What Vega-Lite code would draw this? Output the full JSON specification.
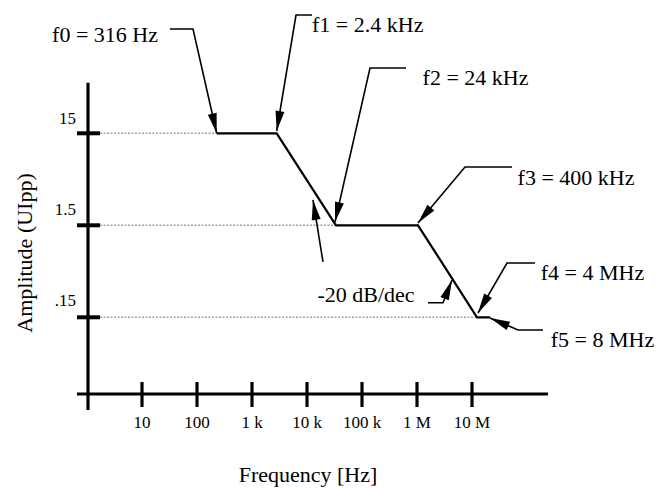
{
  "$schema": "https://vega.github.io/schema/vega-lite/v6.json",
  "width": 662,
  "height": 488,
  "autosize": {"type": "none"},
  "padding": 0,
  "background": "white",
  "config": {"view": {"stroke": null}},
  "encoding": {
    "x": {"field": "x", "type": "quantitative", "scale": {"type": "log", "domain": [0.02619, 2.848e10], "nice": false}, "axis": null},
    "y": {"field": "y", "type": "quantitative", "scale": {"type": "log", "domain": [0.002092, 421.7], "nice": false}, "axis": null}
  },
  "layer": [
    {
      "data": {"values": [
        {"x": 1.723, "x2": 228, "y": 15},
        {"x": 1.723, "x2": 33650, "y": 1.5},
        {"x": 1.723, "x2": 1.233e7, "y": 0.15}
      ]},
      "mark": {"type": "rule", "color": "#a0a0a0", "strokeWidth": 1.5, "strokeDash": [2, 1.5]},
      "encoding": {"x2": {"field": "x2"}}
    },
    {
      "data": {"values": [
        {"x": 228, "y": 15, "o": 1},
        {"x": 2812, "y": 15, "o": 2},
        {"x": 33650, "y": 1.5, "o": 3},
        {"x": 1.043e6, "y": 1.5, "o": 4},
        {"x": 1.233e7, "y": 0.15, "o": 5},
        {"x": 2.124e7, "y": 0.15, "o": 6}
      ]},
      "mark": {"type": "line", "color": "black", "strokeWidth": 2.2},
      "encoding": {"order": {"field": "o", "type": "quantitative"}}
    },
    {
      "data": {"values": [
        {"x": 1.0428, "y": 53.2, "y2": 0.01474},
        {"x": 10, "y": 0.0297, "y2": 0.01589},
        {"x": 100, "y": 0.0297, "y2": 0.01589},
        {"x": 1000, "y": 0.0297, "y2": 0.01589},
        {"x": 10000, "y": 0.0297, "y2": 0.01589},
        {"x": 100000, "y": 0.0297, "y2": 0.01589},
        {"x": 1000000, "y": 0.0297, "y2": 0.01589},
        {"x": 10000000, "y": 0.0297, "y2": 0.01589}
      ]},
      "mark": {"type": "rule", "color": "black", "strokeWidth": 3.2},
      "encoding": {"y2": {"field": "y2"}}
    },
    {
      "data": {"values": [
        {"x": 0.658, "x2": 2.41e8, "y": 0.022}
      ]},
      "mark": {"type": "rule", "color": "black", "strokeWidth": 3.2},
      "encoding": {"x2": {"field": "x2"}}
    },
    {
      "data": {"values": [
        {"x": 0.658, "x2": 1.723, "y": 15},
        {"x": 0.658, "x2": 1.723, "y": 1.5},
        {"x": 0.658, "x2": 1.723, "y": 0.15}
      ]},
      "mark": {"type": "rule", "color": "black", "strokeWidth": 4},
      "encoding": {"x2": {"field": "x2"}}
    },
    {
      "data": {"values": [
        {"g": "f0", "o": 1, "x": 32.29, "y": 204.0},
        {"g": "f0", "o": 2, "x": 84.6, "y": 204.0},
        {"g": "f0", "o": 3, "x": 228, "y": 15},
        {"g": "f1", "o": 1, "x": 12330, "y": 289.7},
        {"g": "f1", "o": 2, "x": 6310, "y": 289.7},
        {"g": "f1", "o": 3, "x": 2812, "y": 15.89},
        {"g": "f2", "o": 1, "x": 631000, "y": 76.9},
        {"g": "f2", "o": 2, "x": 139800, "y": 76.9},
        {"g": "f2", "o": 3, "x": 32290, "y": 1.629},
        {"g": "f3", "o": 1, "x": 5.337e7, "y": 6.453},
        {"g": "f3", "o": 2, "x": 7.46e6, "y": 6.453},
        {"g": "f3", "o": 3, "x": 1.043e6, "y": 1.589},
        {"g": "f4", "o": 1, "x": 1.398e8, "y": 0.5838},
        {"g": "f4", "o": 2, "x": 4.329e7, "y": 0.5838},
        {"g": "f4", "o": 3, "x": 1.286e7, "y": 0.167},
        {"g": "f5", "o": 1, "x": 1.954e8, "y": 0.1092},
        {"g": "f5", "o": 2, "x": 6.862e7, "y": 0.1092},
        {"g": "f5", "o": 3, "x": 2.125e7, "y": 0.1474},
        {"g": "d1", "o": 1, "x": 19540, "y": 0.5987},
        {"g": "d1", "o": 2, "x": 12850, "y": 2.826},
        {"g": "d2", "o": 1, "x": 1.585e6, "y": 0.2162},
        {"g": "d2", "o": 2, "x": 2.97e6, "y": 0.2162},
        {"g": "d2", "o": 3, "x": 4.329e6, "y": 0.3815}
      ]},
      "mark": {"type": "line", "color": "black", "strokeWidth": 1.6},
      "encoding": {
        "detail": {"field": "g", "type": "nominal"},
        "order": {"field": "o", "type": "quantitative"}
      }
    },
    {
      "data": {"values": [
        {"x": 228, "y": 15, "angle": 167.2},
        {"x": 2812, "y": 15.89, "angle": 189.45},
        {"x": 32290, "y": 1.629, "angle": 192.8},
        {"x": 1.043e6, "y": 1.589, "angle": 220},
        {"x": 1.286e7, "y": 0.167, "angle": 210.1},
        {"x": 2.125e7, "y": 0.1474, "angle": 293.2},
        {"x": 12850, "y": 2.826, "angle": 350.8},
        {"x": 4.329e6, "y": 0.3815, "angle": 21.6}
      ]},
      "mark": {"type": "point", "shape": "M0,0L-0.45,2L0.45,2Z", "filled": true, "color": "black", "opacity": 1, "size": 400, "strokeWidth": 0},
      "encoding": {"angle": {"field": "angle", "type": "quantitative", "scale": null}}
    },
    {
      "data": {"values": [
        {"x": 19.54, "y": 148.5, "label": "f0 = 316 Hz"}
      ]},
      "mark": {"type": "text", "font": "Liberation Serif", "color": "black", "align": "right", "baseline": "alphabetic", "fontSize": 22},
      "encoding": {"text": {"field": "label"}}
    },
    {
      "data": {"values": [
        {"x": 12330, "y": 190.7, "label": "f1 = 2.4 kHz"}
      ]},
      "mark": {"type": "text", "font": "Liberation Serif", "color": "black", "align": "left", "baseline": "alphabetic", "fontSize": 22},
      "encoding": {"text": {"field": "label"}}
    },
    {
      "data": {"values": [
        {"x": 1.158e7, "y": 50.24, "label": "f2 = 24 kHz"},
        {"x": 7.78e8, "y": 4.113, "label": "f3 = 400 kHz"},
        {"x": 1.552e9, "y": 0.3815, "label": "f4 = 4 MHz"},
        {"x": 2.359e9, "y": 0.07186, "label": "f5 = 8 MHz"},
        {"x": 118200, "y": 0.2216, "label": "-20 dB/dec"},
        {"x": 10420, "y": 0.002449, "label": "Frequency [Hz]"}
      ]},
      "mark": {"type": "text", "font": "Liberation Serif", "color": "black", "align": "center", "baseline": "alphabetic", "fontSize": 22},
      "encoding": {"text": {"field": "label"}}
    },
    {
      "data": {"values": [
        {"x": 0.0746, "y": 0.75, "label": "Amplitude (UIpp)"}
      ]},
      "mark": {"type": "text", "font": "Liberation Serif", "color": "black", "align": "center", "baseline": "middle", "angle": 270, "fontSize": 22},
      "encoding": {"text": {"field": "label"}}
    },
    {
      "data": {"values": [
        {"x": 10, "y": 0.00939, "label": "10"},
        {"x": 100, "y": 0.00939, "label": "100"},
        {"x": 1000, "y": 0.00939, "label": "1 k"},
        {"x": 10000, "y": 0.00939, "label": "10 k"},
        {"x": 100000, "y": 0.00939, "label": "100 k"},
        {"x": 1000000, "y": 0.00939, "label": "1 M"},
        {"x": 10000000, "y": 0.00939, "label": "10 M"}
      ]},
      "mark": {"type": "text", "font": "Liberation Serif", "color": "black", "align": "center", "baseline": "alphabetic", "fontSize": 17},
      "encoding": {"text": {"field": "label"}}
    },
    {
      "data": {"values": [
        {"x": 0.631, "y": 18.93, "label": "15"},
        {"x": 0.631, "y": 1.941, "label": "1.5"},
        {"x": 0.631, "y": 0.199, "label": ".15"}
      ]},
      "mark": {"type": "text", "font": "Liberation Serif", "color": "black", "align": "right", "baseline": "alphabetic", "fontSize": 17},
      "encoding": {"text": {"field": "label"}}
    }
  ]
}
